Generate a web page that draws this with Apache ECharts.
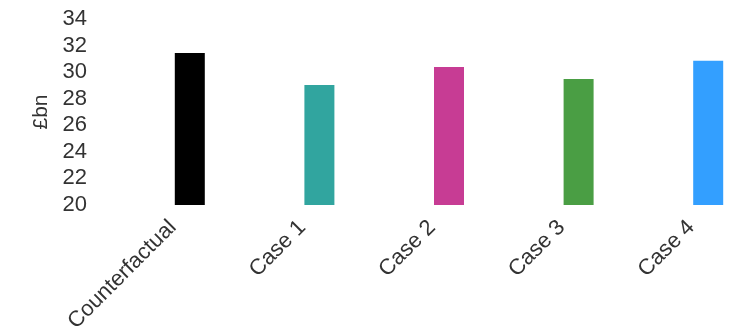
<!DOCTYPE html>
<html>
<head>
<meta charset="utf-8">
<script src="https://cdn.jsdelivr.net/npm/echarts@6/dist/echarts.min.js"></script>
<style>
html,body{margin:0;padding:0;background:#fff;}
#chart{width:733px;height:326px;}
</style>
</head>
<body>
<div id="chart"></div>
<script>
const categories = ['Counterfactual', 'Case 1', 'Case 2', 'Case 3', 'Case 4'];
const values = [31.45, 29.03, 30.38, 29.48, 30.85];
const colors = ['#000000', '#31A59F', '#C73C94', '#4A9E44', '#339FFF'];
const yTicks = { min: 20, max: 34, interval: 2 };
const yTitle = '£bn';

const chart = echarts.init(document.getElementById('chart'), null, { renderer: 'canvas' });
chart.setOption({
  animation: false,
  backgroundColor: '#ffffff',
  grid: { left: 125, top: 19, bottom: 121, right: -40, outerBoundsMode: 'none', containLabel: false },
  xAxis: {
    type: 'category',
    data: categories,
    axisLine: { show: false },
    axisTick: { show: false },
    axisLabel: {
      rotate: 45,
      interval: 0,
      margin: 2,
      color: '#333',
      fontSize: 22,
      fontFamily: 'Liberation Sans, Arial, sans-serif',
      padding: [0, 24, 0, 0]
    }
  },
  yAxis: {
    type: 'value',
    min: yTicks.min,
    max: yTicks.max,
    interval: yTicks.interval,
    name: yTitle,
    nameLocation: 'middle',
    nameGap: 71,
    nameTextStyle: { color: '#333', fontSize: 21, fontFamily: 'Liberation Sans, Arial, sans-serif' },
    axisLine: { show: false },
    axisTick: { show: false },
    splitLine: { show: false },
    axisLabel: {
      margin: 38,
      color: '#333',
      fontSize: 22,
      fontFamily: 'Liberation Sans, Arial, sans-serif'
    }
  },
  series: [{
    type: 'bar',
    barWidth: 30,
    data: values.map((v, i) => ({ value: v, itemStyle: { color: colors[i] } }))
  }]
});
</script>
</body>
</html>
